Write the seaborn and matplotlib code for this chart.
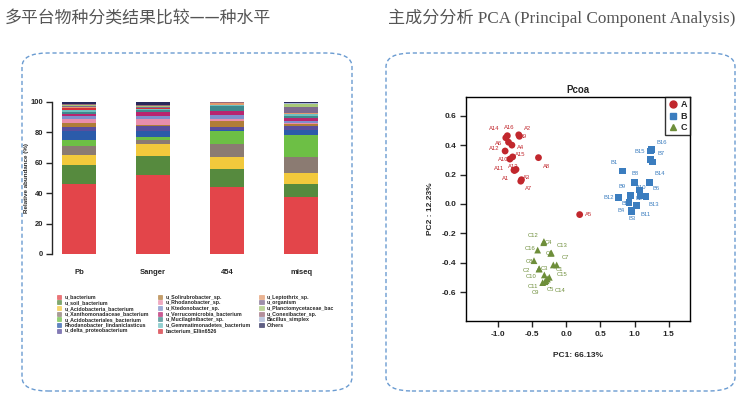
import numpy as np
import pandas as pd
import seaborn as sns
import matplotlib.pyplot as plt
from matplotlib.patches import FancyBboxPatch, Patch
from matplotlib.lines import Line2D

# ---- stacked bar data (relative abundance %, bottom -> top) ----
platforms = ['Pb', 'Sanger', '454', 'miseq']
species = ['u_bacterium', 'u_soil_bacterium', 'u_Acidobacteria_bacterium',
           'u_Xanthomonadaceae_bacterium', 'u_Acidobacteriales_bacterium',
           'Rhodanobacter_lindaniclasticus', 'u_delta_proteobacterium',
           'u_Solirubrobacter_sp.', 'u_Rhodanobacter_sp.', 'u_Ktedonobacter_sp.',
           'u_Verrucomicrobia_bacterium', 'u_Mucilaginibacter_sp.',
           'u_Gemmatimonadetes_bacterium', 'bacterium_Ellin6526',
           'u_Leptothrix_sp.', 'u_organism', 'u_Planctomycetaceae_bac',
           'u_Conexibacter_sp.', 'Bacillus_simplex', 'Others']
species_colors = ['#E3454A', '#568A3E', '#F2C93C', '#8B7B72', '#6DBF45',
                  '#2B5BAA', '#5A4E9C', '#B07D38', '#EA8DAC', '#7F90CC',
                  '#B8256F', '#3F898D', '#6FC1C1', '#D5303A', '#E39A6E',
                  '#7E6A8E', '#A8C878', '#9A6A7A', '#A9B8D8', '#28285A']
pb = [46.3, 12.5, 6.6, 5.9, 3.9, 5.5, 2.6, 2.7, 2.5, 2.2,
      1.5, 1.4, 1.2, 1.2, 0.8, 0.6, 0.5, 0.5, 0.4, 1.2]
sanger = [52.2, 12.5, 7.9, 2.6, 2.0, 3.5, 3.3, 1.1, 3.7, 2.2,
          2.4, 1.1, 0.9, 0.5, 0.4, 0.5, 0.6, 0.3, 0.3, 2.0]
f454 = [43.9, 12.2, 7.9, 8.4, 8.3, 0.6, 2.0, 4.4, 1.1, 2.9,
        2.2, 3.2, 0.6, 0.3, 1.3, 0.2, 0.1, 0.1, 0.1, 0.2]
miseq = [37.3, 9.0, 7.2, 10.5, 14.5, 3.3, 2.2, 1.7, 0.6, 1.0,
         2.5, 0.8, 1.4, 0.2, 0.3, 4.0, 2.0, 0.3, 0.7, 0.5]

# ---- PCoA data ----
a_names = ['A1', 'A2', 'A3', 'A4', 'A5', 'A6', 'A7', 'A8',
           'A9', 'A10', 'A11', 'A12', 'A13', 'A14', 'A15', 'A16']
a_pc1 = [-0.76, -0.70, -0.66, -0.80, 0.195, -0.85, -0.67, -0.41,
         -0.69, -0.83, -0.77, -0.90, -0.74, -0.89, -0.79, -0.867]
a_pc2 = [0.228, 0.47, 0.165, 0.40, -0.072, 0.42, 0.155, 0.315,
         0.46, 0.305, 0.23, 0.36, 0.235, 0.45, 0.32, 0.464]
b_names = ['B1', 'B2', 'B3', 'B4', 'B5', 'B6', 'B7', 'B8',
           'B9', 'B10', 'B11', 'B12', 'B13', 'B14', 'B15', 'B16']
b_pc1 = [0.826, 1.085, 0.96, 0.958, 0.918, 1.218, 1.23, 1.003,
         0.937, 1.071, 1.032, 0.767, 1.169, 1.27, 1.24, 1.25]
b_pc2 = [0.224, 0.054, -0.05, -0.043, 0.011, 0.147, 0.305, 0.145,
         0.059, 0.095, -0.009, 0.045, 0.050, 0.285, 0.36, 0.37]
c_names = ['C1', 'C2', 'C3', 'C4', 'C5', 'C6', 'C7', 'C8',
           'C9', 'C10', 'C11', 'C12', 'C13', 'C14', 'C15', 'C16']
c_pc1 = [-0.143, -0.40, -0.402, -0.334, -0.30, -0.23, -0.192, -0.476,
         -0.349, -0.324, -0.314, -0.33, -0.221, -0.28, -0.251, -0.422]
c_pc2 = [-0.414, -0.44, -0.442, -0.263, -0.52, -0.335, -0.414, -0.385,
         -0.534, -0.482, -0.528, -0.255, -0.333, -0.51, -0.498, -0.313]
group_colors = {'A': '#C1272D', 'B': '#3B7DBF', 'C': '#6E8E3A'}

# label offsets (points) so the sample names sit around their marks
a_off = [(-6.7, -5.9), (6, 4.7), (3.8, 1.5), (6.3, -1.8), (6.2, -0.2), (-7.1, -0.8),
         (5.9, -5.6), (5.7, -6.3), (3, 0), (-4.7, -0.4), (-11, 1.5), (-7.5, 1.7),
         (-2, 2), (-8, 6.8), (5.8, 1.8), (1.2, 6)]
b_off = [(-6.2, 6), (-0.7, -1.9), (0, -5.3), (-7.9, 0), (-2.9, -1), (4.6, -4.6),
         (8, 3.7), (0.5, 6.5), (-5.8, 6.2), (1, 2), (6.7, -6.7), (-7.4, -0.2),
         (5.8, -5.3), (4.6, -8.4), (-7.8, -0.2), (7.1, 5.2)]
c_off = [(1.9, -3.6), (-9, -1.6), (3.8, 0.5), (3.5, 0.5), (3.2, -6.8), (-1, 0),
         (8.6, 5.5), (-3.4, -0.7), (-5, -7), (-9.6, -1.2), (-8.9, -3.4), (-7.6, 4.2),
         (7.4, 5.3), (9.2, -7.9), (9.4, 1.7), (-5.5, 0.8)]

sns.set_style('ticks')
plt.rcParams['font.family'] = ['Liberation Sans', 'Noto Sans CJK SC']

fig = plt.figure(figsize=(7.4, 3.94), dpi=100)

# titles
fig.text(5 / 740, 1 - 18 / 394, '多平台物种分类结果比较——种水平', fontsize=12.2,
         color='#555555', va='center', family=['Noto Sans CJK SC'])
fig.text(388 / 740, 1 - 18 / 394, '主成分分析 PCA (Principal Component Analysis)',
         fontsize=12.3, color='#555555', va='center',
         family=['Liberation Serif', 'Noto Sans CJK SC'])

# dashed rounded panels
for x0, x1 in [(22, 352), (386, 735)]:
    box = FancyBboxPatch((x0 / 740, 1 - 391 / 394), (x1 - x0) / 740, (391 - 53) / 394,
                         boxstyle='round,pad=0,rounding_size=0.035',
                         transform=fig.transFigure, fill=False,
                         edgecolor='#6A9BD1', linestyle=(0, (3, 2)), linewidth=1)
    fig.add_artist(box)

# ---- stacked bars ----
ax1 = fig.add_axes([51.7 / 740, 1 - 254 / 394, 276.8 / 740, 152 / 394])
abund = pd.DataFrame({'Pb': pb, 'Sanger': sanger, '454': f454, 'miseq': miseq},
                     index=species)
cum = abund.cumsum(axis=0)
for sp, col in reversed(list(zip(species, species_colors))):
    sns.barplot(x=platforms, y=cum.loc[sp].values, color=col, width=0.46,
                saturation=1, ax=ax1, linewidth=0)
ax1.set_xlim(-0.37, 3.37)
ax1.set_ylim(0, 100)
ax1.set_yticks([0, 20, 40, 60, 80, 100])
for s in ['top', 'right', 'bottom']:
    ax1.spines[s].set_visible(False)
ax1.spines['left'].set_linewidth(1)
ax1.tick_params(axis='y', length=4, width=1, labelsize=5.5, pad=2)
ax1.tick_params(axis='x', length=0, labelsize=5.5, pad=11)
for t in ax1.get_xticklabels() + ax1.get_yticklabels():
    t.set_fontweight('bold')
ax1.set_ylabel('Relative abundance (%)', fontsize=4.5, fontweight='bold', labelpad=1)

handles = [Patch(facecolor=c, edgecolor=c, alpha=0.75, linewidth=0.5) for c in species_colors]
fig.legend(handles, species, ncol=3, loc='upper left',
           bbox_to_anchor=(54 / 740, 1 - 292 / 394), frameon=False,
           handlelength=0.9, handleheight=0.8, handletextpad=0.6,
           labelspacing=0.12, columnspacing=1.6, borderpad=0,
           prop={'weight': 'bold', 'size': 3.8})

# ---- PCoA scatter ----
ax2 = fig.add_axes([466.3 / 740, 1 - 321 / 394, 223.7 / 740, 223.7 / 394])
pca = pd.DataFrame({
    'PC1': a_pc1 + b_pc1 + c_pc1,
    'PC2': a_pc2 + b_pc2 + c_pc2,
    'group': ['A'] * 16 + ['B'] * 16 + ['C'] * 16,
    'name': a_names + b_names + c_names,
})
offsets = a_off + b_off + c_off
for (_, r), (dx, dy) in zip(pca.iterrows(), offsets):
    ax2.annotate(r['name'], (r['PC1'], r['PC2']), xytext=(dx, dy),
                 textcoords='offset points', ha='center', va='center',
                 fontsize=4.2, color=group_colors[r['group']], zorder=1)
sns.scatterplot(data=pca, x='PC1', y='PC2', hue='group', style='group',
                markers={'A': 'o', 'B': 's', 'C': '^'}, palette=group_colors,
                s=24, linewidth=0, legend=False, ax=ax2, zorder=3)
ax2.set_xlim(-1.47, 1.815)
ax2.set_ylim(-0.795, 0.725)
ax2.set_xticks([-1.0, -0.5, 0.0, 0.5, 1.0, 1.5])
ax2.set_yticks([-0.6, -0.4, -0.2, 0.0, 0.2, 0.4, 0.6])
ax2.xaxis.set_major_formatter(plt.FormatStrFormatter('%.1f'))
ax2.yaxis.set_major_formatter(plt.FormatStrFormatter('%.1f'))
ax2.tick_params(length=4, width=1, labelsize=6, pad=3)
for t in ax2.get_xticklabels() + ax2.get_yticklabels():
    t.set_fontweight('bold')
for s in ax2.spines.values():
    s.set_linewidth(1)
    s.set_color('black')
ax2.set_xlabel('PC1: 66.13%', fontsize=6, fontweight='bold', labelpad=10)
ax2.set_ylabel('PC2 : 12.23%', fontsize=6, fontweight='bold', labelpad=6)
ax2.set_title('Pcoa', fontsize=7, fontweight='bold', pad=3)

leg_handles = [Line2D([], [], marker=m, color=group_colors[g], linestyle='', markersize=5)
               for g, m in zip(['A', 'B', 'C'], ['o', 's', '^'])]
leg = ax2.legend(leg_handles, ['A', 'B', 'C'], loc='upper right', borderaxespad=0,
                 frameon=True, fancybox=False, handlelength=1, handletextpad=0.3,
                 borderpad=0.35, labelspacing=0.25, prop={'weight': 'bold', 'size': 6.5})
leg.get_frame().set_edgecolor('black')
leg.get_frame().set_linewidth(1)

fig.savefig('out.png', dpi=100)
